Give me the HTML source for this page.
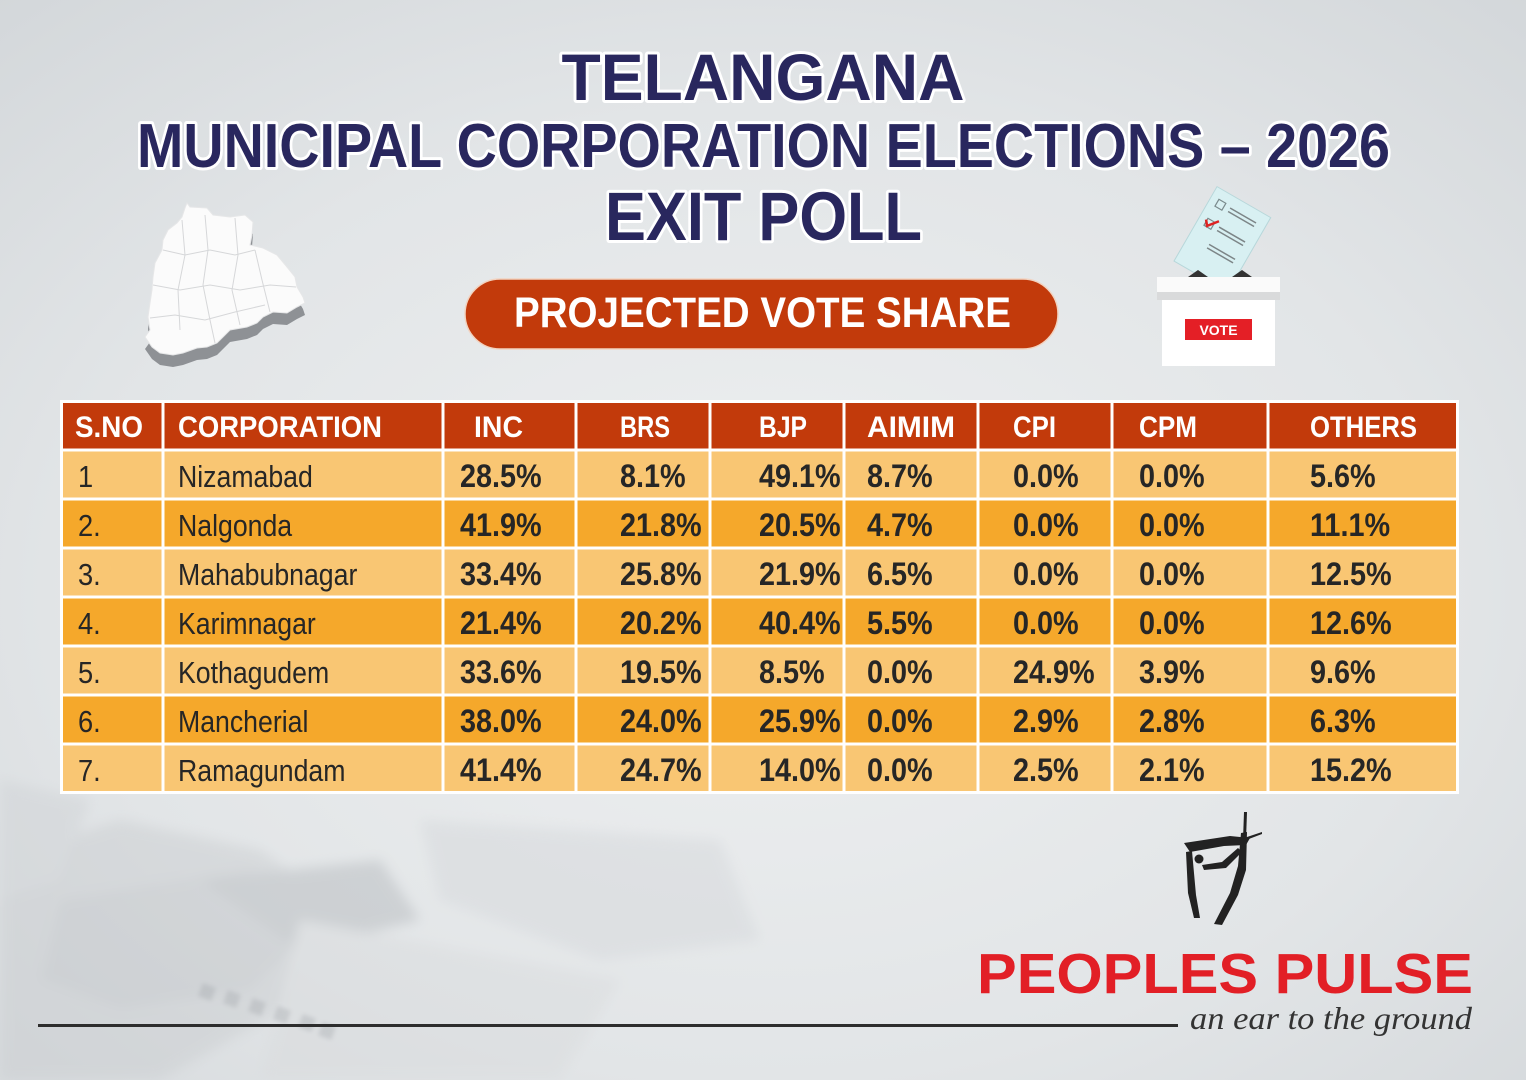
<!DOCTYPE html>
<html><head><meta charset="utf-8"><style>
html,body{margin:0;padding:0;width:1526px;height:1080px;overflow:hidden;background:#e2e4e6}
svg{display:block}
</style></head><body>
<svg width="1526" height="1080" viewBox="0 0 1526 1080" xmlns="http://www.w3.org/2000/svg">
<defs>
<radialGradient id="bg" cx="0.5" cy="0.55" r="0.75">
<stop offset="0" stop-color="#eef0f1"/>
<stop offset="0.6" stop-color="#e2e5e7"/>
<stop offset="1" stop-color="#d3d7da"/>
</radialGradient>
<filter id="blur" x="-20%" y="-20%" width="140%" height="140%"><feGaussianBlur stdDeviation="6"/></filter>
<filter id="blur2"><feGaussianBlur stdDeviation="2"/></filter>
</defs>
<rect width="1526" height="1080" fill="url(#bg)"/>
<!-- faded photo bottom-left -->
<g opacity="0.45" filter="url(#blur)">
<path d="M0 860 L120 820 L260 850 L330 900 L380 960 L300 1000 L160 1080 L0 1080 Z" fill="#c9cccf"/>
<path d="M60 900 L250 870 L310 930 L250 990 L120 1010 L40 980 Z" fill="#bfc2c6"/>
<path d="M200 880 L380 860 L420 920 L300 950 Z" fill="#b3b7bb"/>
<path d="M300 920 L620 980 L560 1080 L260 1080 Z" fill="#d9dbdd"/>
<path d="M420 820 L720 840 L760 940 L600 960 L440 900 Z" fill="#d4d7da"/>
<path d="M0 780 L90 800 L60 880 L0 900 Z" fill="#cfd2d5"/>
</g>
<g opacity="0.3" fill="#9a9ea3" filter="url(#blur2)">
<rect x="200" y="985" width="14" height="14" transform="rotate(20 207 992)"/>
<rect x="225" y="992" width="14" height="14" transform="rotate(20 232 999)"/>
<rect x="250" y="1000" width="14" height="14" transform="rotate(20 257 1007)"/>
<rect x="275" y="1008" width="14" height="14" transform="rotate(20 282 1015)"/>
<rect x="300" y="1016" width="14" height="14" transform="rotate(20 307 1023)"/>
<rect x="320" y="1024" width="14" height="14" transform="rotate(20 327 1031)"/>
</g>

<!-- Title -->
<g font-family="'Liberation Sans', sans-serif" font-weight="bold" fill="#29275e" stroke="#ffffff" stroke-width="6" stroke-linejoin="round" paint-order="stroke" text-anchor="middle">
<text x="763" y="100" font-size="66" textLength="403" lengthAdjust="spacingAndGlyphs">TELANGANA</text>
<text x="763.5" y="167" font-size="62" textLength="1253" lengthAdjust="spacingAndGlyphs">MUNICIPAL CORPORATION ELECTIONS – 2026</text>
<text x="763.5" y="240" font-size="69" textLength="317" lengthAdjust="spacingAndGlyphs">EXIT POLL</text>
</g>

<!-- Map -->
<g>
<path d="M187 215 L190 219 L207 220 L213 227 L230 229 L245 227 L253 234 L252 247 L250 257 L263 260 L277 267 L287 279 L295 289 L297 299 L303 309 L305 315 L297 319 L287 325 L273 324 L263 329 L257 335 L247 339 L230 342 L223 349 L217 355 L207 359 L197 360 L183 365 L173 367 L160 365 L152 359 L145 349 L150 342 L148 329 L150 315 L152 302 L153 289 L155 275 L162 262 L163 252 L168 242 L177 235 L182 229 L185 220 Z" fill="#8e9195"/>
<path d="M187 203 L190 207 L207 208 L213 215 L230 217 L245 215 L253 222 L252 235 L250 245 L263 248 L277 255 L287 267 L295 277 L297 287 L303 297 L305 303 L297 307 L287 313 L273 312 L263 317 L257 323 L247 327 L230 330 L223 337 L217 343 L207 347 L197 348 L183 353 L173 355 L160 353 L152 347 L145 337 L150 330 L148 317 L150 303 L152 290 L153 277 L155 263 L162 250 L163 240 L168 230 L177 223 L182 217 L185 208 Z" fill="#fbfbfb" stroke="#e6e7e8" stroke-width="1"/>
<g stroke="#d6d7d9" stroke-width="1" fill="none">
<path d="M163 250 L185 255 L210 250 L235 255 L255 250"/>
<path d="M153 285 L180 290 L210 285 L240 290 L270 285 L296 287"/>
<path d="M205 215 L208 250 L203 285 L210 320 L215 343"/>
<path d="M235 218 L238 255 L232 290 L240 325"/>
<path d="M150 318 L175 315 L205 320 L235 312 L265 305"/>
<path d="M182 220 L185 255 L178 290 L180 330"/>
<path d="M255 250 L262 280 L270 312"/>
</g>
</g>

<!-- Ballot box -->
<g>
<g transform="rotate(30 1222 238)">
<rect x="1192" y="196" width="62" height="86" fill="#d8f0f2" stroke="#b7d7da" stroke-width="1"/>
<rect x="1200" y="206" width="8" height="8" fill="none" stroke="#7a8a8c" stroke-width="1.2"/>
<rect x="1200" y="228" width="8" height="8" fill="none" stroke="#7a8a8c" stroke-width="1.2"/>
<g stroke="#7c8587" stroke-width="1.5">
<line x1="1214" y1="208" x2="1244" y2="208"/><line x1="1214" y1="212" x2="1244" y2="212"/>
<line x1="1214" y1="230" x2="1244" y2="230"/><line x1="1214" y1="234" x2="1244" y2="234"/>
<line x1="1214" y1="250" x2="1244" y2="250"/><line x1="1214" y1="254" x2="1244" y2="254"/>
</g>
<path d="M1199 230 L1203 235 L1211 225" stroke="#d22" stroke-width="2.5" fill="none"/>
</g>
<path d="M1188 277 L1198 270 L1208 277 Z M1232 277 L1242 270 L1252 277 Z" fill="#333"/>
<rect x="1157" y="277" width="123" height="15" fill="#fafafa"/>
<rect x="1157" y="292" width="123" height="8" fill="#d9dadb"/>
<rect x="1162" y="300" width="113" height="66" fill="#ffffff"/>
<rect x="1185" y="319" width="67" height="21" fill="#e41f26"/>
<text x="1218.5" y="335" font-family="'Liberation Sans', sans-serif" font-weight="bold" font-size="14" fill="#fff" text-anchor="middle">VOTE</text>
</g>

<!-- Pill -->
<rect x="465" y="279" width="593" height="70" rx="35" fill="#c23a0b" stroke="#f2d3c0" stroke-width="1.5"/>
<text x="762.5" y="327" font-family="'Liberation Sans', sans-serif" font-weight="bold" font-size="43" fill="#ffffff" text-anchor="middle" textLength="497" lengthAdjust="spacingAndGlyphs">PROJECTED VOTE SHARE</text>

<!-- Table -->
<g>
<rect x="61" y="401" width="1397" height="392" fill="#ffffff"/>
<rect x="61" y="401" width="1397" height="49" fill="#c23a0b"/>
<rect x="61" y="450" width="1397" height="49" fill="#f9c673"/>
<rect x="61" y="499" width="1397" height="49" fill="#f5a82b"/>
<rect x="61" y="548" width="1397" height="49" fill="#f9c673"/>
<rect x="61" y="597" width="1397" height="49" fill="#f5a82b"/>
<rect x="61" y="646" width="1397" height="49" fill="#f9c673"/>
<rect x="61" y="695" width="1397" height="49" fill="#f5a82b"/>
<rect x="61" y="744" width="1397" height="49" fill="#f9c673"/>
<g stroke="#ffffff" stroke-width="3" fill="none">
<rect x="61.5" y="401.5" width="1396" height="391"/>
<line x1="61" y1="450" x2="1458" y2="450"/>
<line x1="61" y1="499" x2="1458" y2="499"/>
<line x1="61" y1="548" x2="1458" y2="548"/>
<line x1="61" y1="597" x2="1458" y2="597"/>
<line x1="61" y1="646" x2="1458" y2="646"/>
<line x1="61" y1="695" x2="1458" y2="695"/>
<line x1="61" y1="744" x2="1458" y2="744"/>
<line x1="163" y1="401" x2="163" y2="793"/>
<line x1="443" y1="401" x2="443" y2="793"/>
<line x1="576" y1="401" x2="576" y2="793"/>
<line x1="710" y1="401" x2="710" y2="793"/>
<line x1="844" y1="401" x2="844" y2="793"/>
<line x1="978" y1="401" x2="978" y2="793"/>
<line x1="1112" y1="401" x2="1112" y2="793"/>
<line x1="1268" y1="401" x2="1268" y2="793"/>
</g>
<!-- header text -->
<g font-family="'Liberation Sans', sans-serif" font-weight="bold" font-size="30" fill="#ffffff">
<text x="75" y="437" textLength="68" lengthAdjust="spacingAndGlyphs">S.NO</text>
<text x="178" y="437" textLength="204" lengthAdjust="spacingAndGlyphs">CORPORATION</text>
<text x="474" y="437" textLength="49" lengthAdjust="spacingAndGlyphs">INC</text>
<text x="620" y="437" textLength="50" lengthAdjust="spacingAndGlyphs">BRS</text>
<text x="759" y="437" textLength="48" lengthAdjust="spacingAndGlyphs">BJP</text>
<text x="867" y="437" textLength="88" lengthAdjust="spacingAndGlyphs">AIMIM</text>
<text x="1013" y="437" textLength="43" lengthAdjust="spacingAndGlyphs">CPI</text>
<text x="1139" y="437" textLength="58" lengthAdjust="spacingAndGlyphs">CPM</text>
<text x="1310" y="437" textLength="107" lengthAdjust="spacingAndGlyphs">OTHERS</text>
</g>
<!-- serial + names -->
<g font-family="'Liberation Sans', sans-serif" font-size="31" fill="#262626">
<g transform="translate(78 0) scale(0.88 1)">
<text x="0" y="487">1</text><text x="0" y="536">2.</text><text x="0" y="585">3.</text><text x="0" y="634">4.</text><text x="0" y="683">5.</text><text x="0" y="732">6.</text><text x="0" y="781">7.</text>
</g>
<g transform="translate(178 0) scale(0.86 1)">
<text x="0" y="487">Nizamabad</text><text x="0" y="536">Nalgonda</text><text x="0" y="585">Mahabubnagar</text><text x="0" y="634">Karimnagar</text><text x="0" y="683">Kothagudem</text><text x="0" y="732">Mancherial</text><text x="0" y="781">Ramagundam</text>
</g>
</g>
<!-- values -->
<g font-family="'Liberation Sans', sans-serif" font-weight="bold" font-size="32" fill="#262626">
<g transform="translate(460 0) scale(0.9 1)">
<text x="0" y="487">28.5%</text><text x="0" y="536">41.9%</text><text x="0" y="585">33.4%</text><text x="0" y="634">21.4%</text><text x="0" y="683">33.6%</text><text x="0" y="732">38.0%</text><text x="0" y="781">41.4%</text>
</g>
<g transform="translate(620 0) scale(0.9 1)">
<text x="0" y="487">8.1%</text><text x="0" y="536">21.8%</text><text x="0" y="585">25.8%</text><text x="0" y="634">20.2%</text><text x="0" y="683">19.5%</text><text x="0" y="732">24.0%</text><text x="0" y="781">24.7%</text>
</g>
<g transform="translate(759 0) scale(0.9 1)">
<text x="0" y="487">49.1%</text><text x="0" y="536">20.5%</text><text x="0" y="585">21.9%</text><text x="0" y="634">40.4%</text><text x="0" y="683">8.5%</text><text x="0" y="732">25.9%</text><text x="0" y="781">14.0%</text>
</g>
<g transform="translate(867 0) scale(0.9 1)">
<text x="0" y="487">8.7%</text><text x="0" y="536">4.7%</text><text x="0" y="585">6.5%</text><text x="0" y="634">5.5%</text><text x="0" y="683">0.0%</text><text x="0" y="732">0.0%</text><text x="0" y="781">0.0%</text>
</g>
<g transform="translate(1013 0) scale(0.9 1)">
<text x="0" y="487">0.0%</text><text x="0" y="536">0.0%</text><text x="0" y="585">0.0%</text><text x="0" y="634">0.0%</text><text x="0" y="683">24.9%</text><text x="0" y="732">2.9%</text><text x="0" y="781">2.5%</text>
</g>
<g transform="translate(1139 0) scale(0.9 1)">
<text x="0" y="487">0.0%</text><text x="0" y="536">0.0%</text><text x="0" y="585">0.0%</text><text x="0" y="634">0.0%</text><text x="0" y="683">3.9%</text><text x="0" y="732">2.8%</text><text x="0" y="781">2.1%</text>
</g>
<g transform="translate(1310 0) scale(0.9 1)">
<text x="0" y="487">5.6%</text><text x="0" y="536">11.1%</text><text x="0" y="585">12.5%</text><text x="0" y="634">12.6%</text><text x="0" y="683">9.6%</text><text x="0" y="732">6.3%</text><text x="0" y="781">15.2%</text>
</g>
</g>
</g>

<!-- Logo figure -->
<g fill="#222">
<path d="M1184 843 L1230 836 L1250 838 L1246 845 L1224 846 L1190 852 Z"/>
<path d="M1186 852 L1192 851 L1196 895 L1200 918 L1194 918 L1188 893 Z"/>
<path d="M1241 833 L1247 832 L1246 870 L1238 895 L1222 925 L1214 924 L1230 893 L1238 866 Z"/>
<path d="M1202 865 L1222 862 L1238 848 L1242 852 L1226 868 L1204 870 Z"/>
<circle cx="1199" cy="859" r="4.5"/>
<path d="M1244 812 L1247 812 L1246 840 L1243 840 Z"/>
<path d="M1232 842 L1262 832 L1262 834 L1233 845 Z"/>
</g>
<text x="977" y="993" font-family="'Liberation Sans', sans-serif" font-weight="bold" font-size="57" fill="#e21f26" textLength="496" lengthAdjust="spacingAndGlyphs">PEOPLES PULSE</text>
<rect x="38" y="1024" width="1140" height="3" fill="#2d2d2d"/>
<text x="1190" y="1029" font-family="'Liberation Serif', serif" font-style="italic" font-size="32" fill="#333" textLength="282" lengthAdjust="spacingAndGlyphs">an ear to the ground</text>
</svg>
</body></html>
